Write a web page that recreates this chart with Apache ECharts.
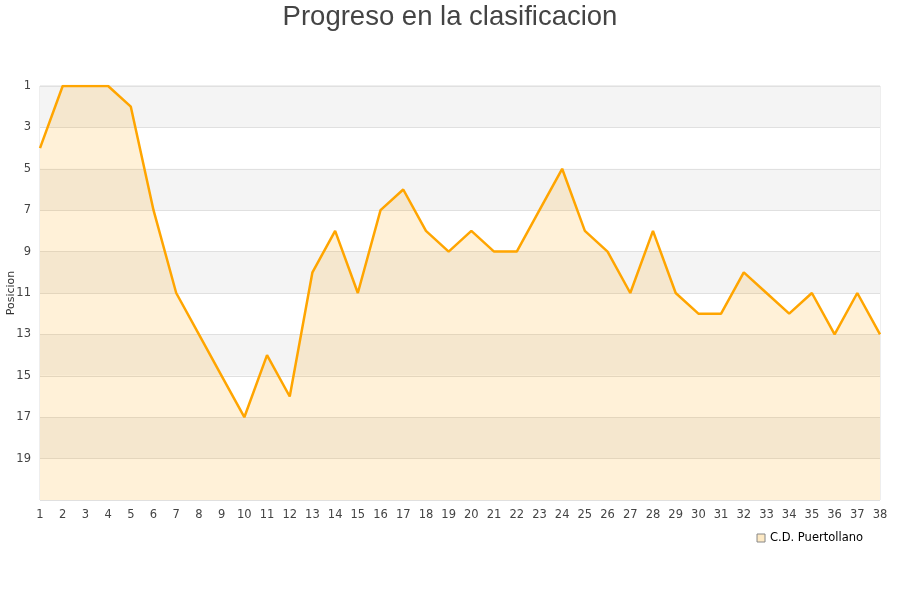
<!DOCTYPE html>
<html>
<head>
<meta charset="utf-8">
<script src="https://cdn.jsdelivr.net/npm/echarts@6/dist/echarts.min.js"></script>
<style>html,body{margin:0;padding:0;background:#fff}#c{width:900px;height:600px}</style>
</head>
<body>
<div id="c"></div>
<script>
var jornadas = ['1','2','3','4','5','6','7','8','9','10','11','12','13','14','15','16','17','18','19','20','21','22','23','24','25','26','27','28','29','30','31','32','33','34','35','36','37','38'];
var posiciones = [4,1,1,1,2,7,11,13,15,17,14,16,10,8,11,7,6,8,9,8,9,9,7,5,8,9,11,8,11,12,12,10,11,12,11,13,11,13];
var equipo = 'C.D. Puertollano';

var chart = echarts.init(document.getElementById('c'));
chart.setOption({
  animation: false,
  backgroundColor: '#fff',
  title: {
    text: 'Progreso en la clasificacion',
    left: 'center',
    top: -2,
    textStyle: {fontFamily: 'Liberation Sans', fontSize: 27.5, fontWeight: 'normal', color: '#444'}
  },
  legend: {
    data: [{name: equipo, itemStyle: {color: '#fde9c4', borderColor: '#888', borderWidth: 1}}],
    right: 32,
    top: 527,
    itemWidth: 8,
    itemHeight: 8,
    itemGap: 10,
    icon: 'rect',
    textStyle: {fontFamily: 'DejaVu Sans', fontSize: 11.5, color: '#000'}
  },
  grid: {left: 40, right: 20, top: 86, bottom: 100, containLabel: false, outerBoundsMode: 'none', show: true, borderColor: '#ddd', borderWidth: 1, backgroundColor: 'transparent'},
  xAxis: {
    type: 'category',
    data: jornadas,
    boundaryGap: false,
    axisLine: {show: false},
    axisTick: {show: false},
    splitLine: {show: false},
    axisLabel: {fontFamily: 'DejaVu Sans', fontSize: 11.5, color: '#444', margin: 9, interval: 0}
  },
  yAxis: {
    type: 'value',
    inverse: true,
    min: 1,
    max: 21,
    interval: 2,
    name: 'Posicion',
    nameLocation: 'middle',
    nameGap: 23,
    nameMoveOverlap: false,
    nameTextStyle: {fontFamily: 'DejaVu Sans', fontSize: 11, color: '#333'},
    axisLine: {show: false},
    axisTick: {show: false},
    axisLabel: {fontFamily: 'DejaVu Sans', fontSize: 11.5, color: '#444', margin: 9, showMaxLabel: false},
    splitLine: {show: true, lineStyle: {color: '#e0e0e0', width: 1}},
    splitArea: {show: true, areaStyle: {color: ['#f4f4f4', '#ffffff']}}
  },
  series: [{
    name: equipo,
    type: 'line',
    data: posiciones,
    symbol: 'none',
    lineStyle: {color: '#ffa500', width: 2.5},
    itemStyle: {color: '#fde9c4'},
    areaStyle: {color: 'rgba(255,165,0,0.22)', origin: 'end'}
  }]
});
</script>
</body>
</html>
